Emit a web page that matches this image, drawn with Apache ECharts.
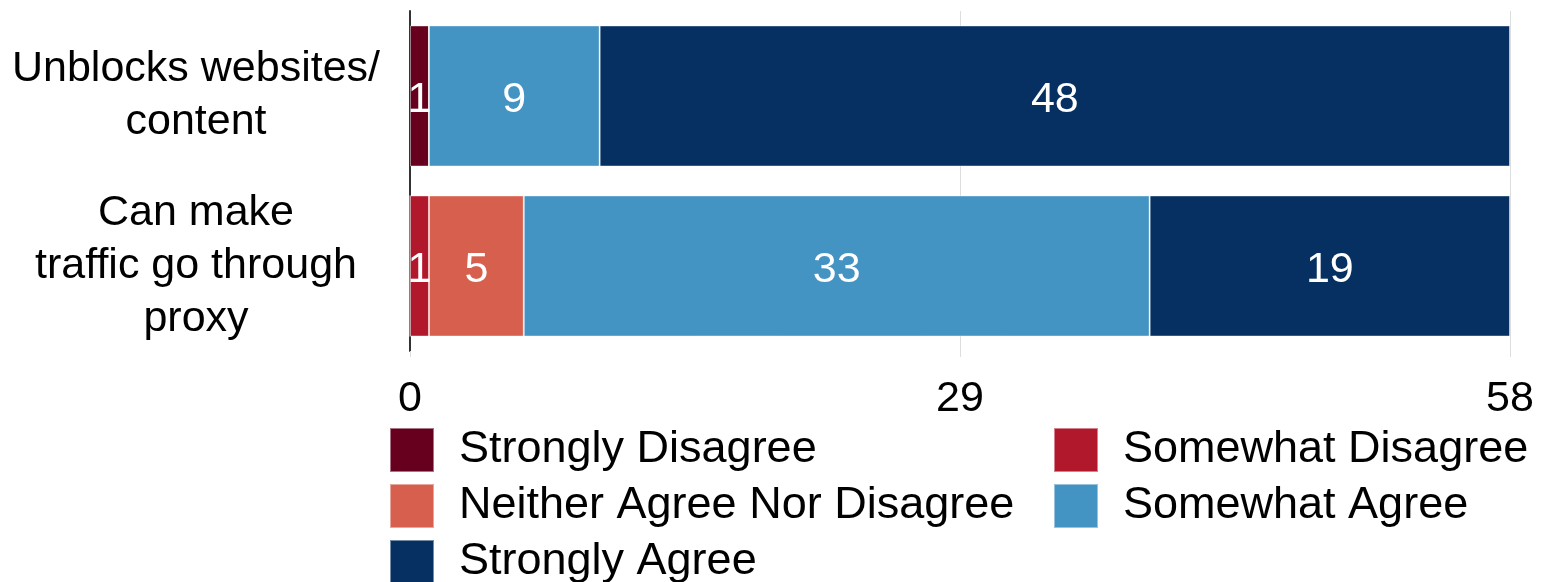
<!DOCTYPE html>
<html>
<head>
<meta charset="utf-8">
<script src="https://cdn.jsdelivr.net/npm/echarts@6/dist/echarts.min.js"></script>
<style>
html,body{margin:0;padding:0;background:#fff;}
#chart{width:1541px;height:582px;}
</style>
</head>
<body>
<div id="chart"></div>
<script>
var categories = ['Unblocks websites/\ncontent', 'Can make\ntraffic go through\nproxy'];
var stronglyDisagree = [1, 0];
var somewhatDisagree = [0, 1];
var neitherAgree = [0, 5];
var somewhatAgree = [9, 33];
var stronglyAgree = [48, 19];
var xTicks = [0, 29, 58];

var chart = echarts.init(document.getElementById('chart'));
var font = 'Liberation Sans, Arial, sans-serif';

function seg(name, data, color) {
    return {
        name: name,
        type: 'bar',
        stack: 'total',
        barCategoryGap: '17%',
        data: data,
        itemStyle: {
            color: color,
            borderColor: 'rgba(255,255,255,0.45)',
            borderWidth: 1
        },
        label: {
            show: true,
            position: 'inside',
            offset: [0, 4],
            color: '#fff',
            fontFamily: font,
            fontSize: 43,
            formatter: function (p) { return p.value ? p.value : ''; }
        },
        emphasis: { disabled: true }
    };
}

var legendText = { fontFamily: font, fontSize: 45, color: '#000', padding: [8, 0, 0, 20] };

var option = {
    animation: false,
    grid: {
        left: 410,
        right: 31,
        top: 11,
        bottom: 231
    },
    legend: [
        {
            orient: 'vertical',
            left: 389,
            top: 427,
            height: 160,
            padding: 0,
            itemWidth: 44,
            itemHeight: 44,
            itemGap: 10,
            icon: 'rect',
            textStyle: legendText,
            data: ['Strongly Disagree', 'Neither Agree Nor Disagree', 'Strongly Agree']
        },
        {
            orient: 'vertical',
            left: 1053,
            top: 427,
            height: 160,
            padding: 0,
            itemWidth: 44,
            itemHeight: 44,
            itemGap: 10,
            icon: 'rect',
            textStyle: legendText,
            data: ['Somewhat Disagree', 'Somewhat Agree']
        }
    ],
    xAxis: {
        type: 'value',
        min: xTicks[0],
        max: xTicks[xTicks.length - 1],
        interval: 29,
        axisLine: { show: false },
        axisTick: { show: true, length: 6, lineStyle: { color: '#ddd' } },
        splitLine: { show: true, lineStyle: { color: '#ddd', width: 1 } },
        axisLabel: {
            color: '#000',
            fontFamily: font,
            fontSize: 43,
            margin: 27
        }
    },
    yAxis: {
        type: 'category',
        inverse: true,
        data: categories,
        axisLine: { show: true, lineStyle: { color: '#333', width: 2 } },
        axisTick: { show: false },
        axisLabel: {
            color: '#000',
            fontFamily: font,
            fontSize: 43,
            lineHeight: 53,
            align: 'center',
            margin: 214,
            padding: [4, 0, 0, 0]
        }
    },
    series: [
        seg('Strongly Disagree', stronglyDisagree, '#67001f'),
        seg('Somewhat Disagree', somewhatDisagree, '#b2182b'),
        seg('Neither Agree Nor Disagree', neitherAgree, '#d6604d'),
        seg('Somewhat Agree', somewhatAgree, '#4393c3'),
        seg('Strongly Agree', stronglyAgree, '#053061')
    ]
};

chart.setOption(option);
</script>
</body>
</html>
